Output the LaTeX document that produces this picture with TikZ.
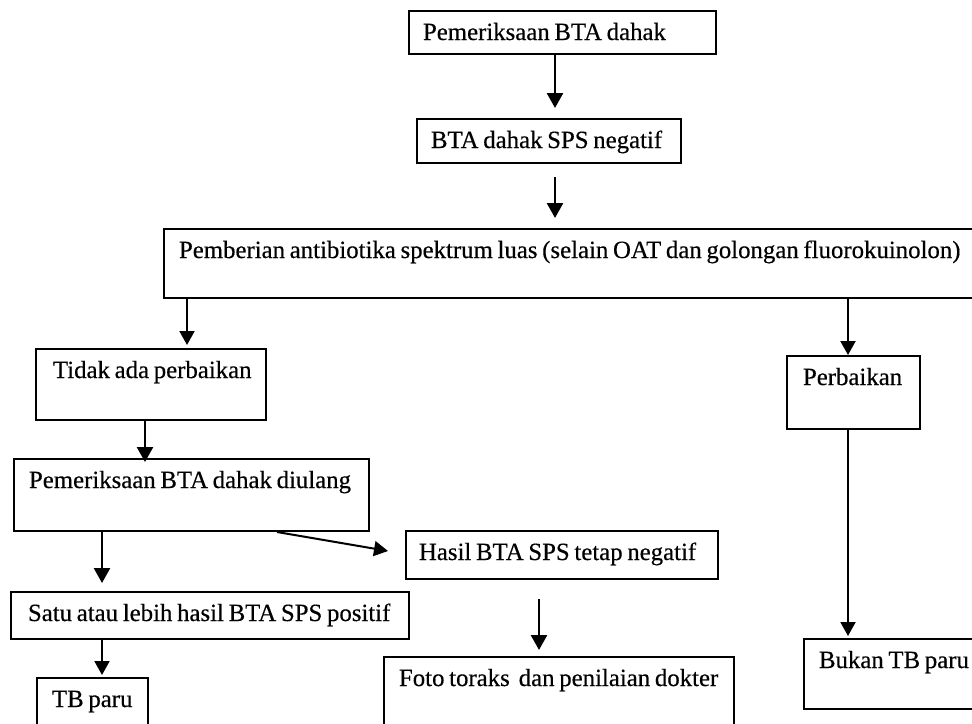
\documentclass[tikz,border=0pt]{standalone}
\usepackage{fontspec}
\setmainfont{Liberation Serif}[FakeBold=0.4]
\usetikzlibrary{arrows.meta}
\newcommand\myboxstart{\hbox\bgroup\spaceskip 4.7pt\relax}
\newcommand\myboxend{\egroup}
\begin{document}
\begin{tikzpicture}[x=1pt,y=-1pt,
  box/.style={draw, line width=2pt, anchor=north west, inner ysep=0pt, align=left,
    text height=29pt, font=\fontsize{24.8}{28}\selectfont,
    execute at begin node=\myboxstart, execute at end node=\myboxend},
  arr/.style={line width=2.6pt, -{Triangle[length=15pt,width=16pt]}},
  arrthin/.style={line width=2pt, -{Triangle[length=14pt,width=15pt]}}]
\useasboundingbox (0,0) rectangle (972,723);
\clip (0,0) rectangle (972,723);
\fill[white] (0,0) rectangle (972,723);
% boxes
\node[box, inner xsep=14pt, text width=279pt, text depth=14pt] (b1) at (408,10) {Pemeriksaan BTA dahak};
\node[box, inner xsep=14pt, text width=236pt, text depth=15pt] (b2) at (416,118) {BTA dahak SPS negatif};
\node[box, inner xsep=15pt, text width=800pt, text depth=40pt] (b3) at (163,228) {Pemberian antibiotika spektrum luas (selain OAT dan golongan fluorokuinolon)};
\node[box, inner xsep=17pt, text width=196pt, text depth=42pt] (tidak) at (35,348) {Tidak ada perbaikan};
\node[box, inner xsep=15pt, text width=325pt, text depth=43pt] (dul) at (13,458) {Pemeriksaan BTA dahak diulang};
\node[box, inner xsep=13pt, text width=286pt, text depth=19pt] (hasil) at (405,530) {Hasil BTA SPS tetap negatif};
\node[box, inner xsep=17pt, text width=364pt, text depth=18pt] (satu) at (10,591) {Satu atau lebih hasil BTA SPS positif};
\node[box, inner xsep=15pt, text width=81pt, text depth=50pt] (tb) at (36,677) {TB paru};
\node[box, inner xsep=15pt, text width=320pt, text depth=60pt] (foto) at (383,656) {Foto toraks\hspace{9pt}dan penilaian dokter};
\node[box, inner xsep=16pt, text width=101pt, text depth=44pt] (perb) at (786,355) {Perbaikan};
\node[box, inner xsep=15pt, text width=170pt, text depth=41pt] (bukan) at (803,638) {Bukan TB paru};
% connectors
\draw[arr] ([xshift=147pt]b1.south west) -- ([xshift=139pt,yshift=10pt]b2.north west);
\draw[arr] ([xshift=139pt,yshift=-13pt]b2.south west) -- ([xshift=392pt,yshift=10pt]b3.north west);
\draw[arrthin] ([xshift=24pt]b3.south west) -- ([xshift=152pt,yshift=3pt]tidak.north west);
\draw[arrthin] ([xshift=685pt]b3.south west) -- ([xshift=62pt]perb.north west);
\draw[arr] ([xshift=110pt]tidak.south west) -- ([xshift=132pt,yshift=-4pt]dul.north west);
\draw[arr] ([xshift=89pt]dul.south west) -- ([xshift=92pt,yshift=8pt]satu.north west);
\draw[arrthin] ([xshift=264pt]dul.south west) -- ([xshift=-17pt,yshift=4pt]hasil.west);
\draw[arrthin] ([xshift=92pt]satu.south west) -- ([xshift=66pt,yshift=2pt]tb.north west);
\draw[arr] ([xshift=134pt,yshift=-19pt]hasil.south west) -- ([xshift=156pt,yshift=6pt]foto.north west);
\draw[arrthin] ([xshift=62pt]perb.south west) -- ([xshift=45pt,yshift=2pt]bukan.north west);
\end{tikzpicture}
\end{document}
